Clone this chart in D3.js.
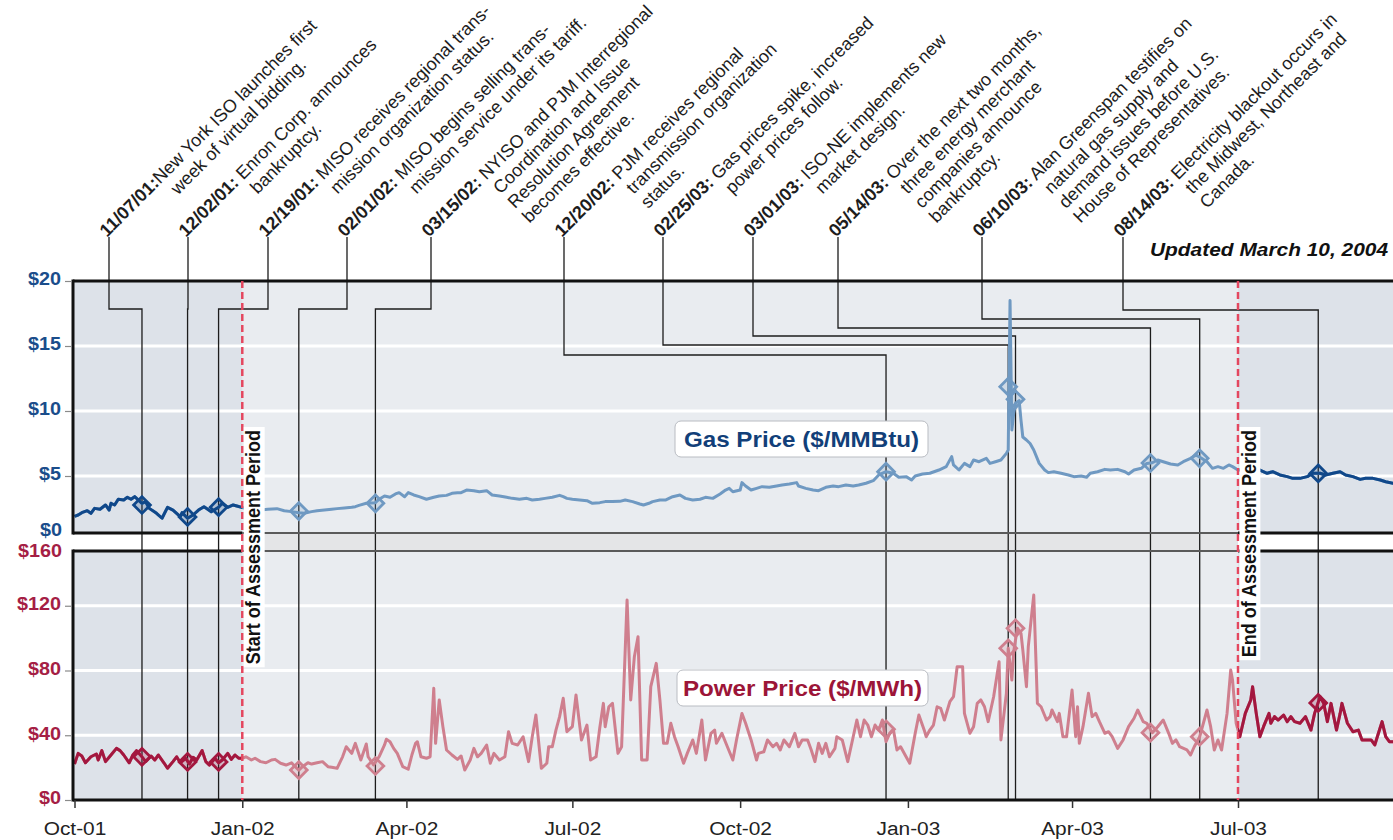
<!DOCTYPE html>
<html>
<head>
<meta charset="utf-8">
<script src="https://cdn.jsdelivr.net/npm/d3@7"></script>
<style>
  body { margin: 0; background: #fff; }
  svg { display: block; }
  text { font-family: "Liberation Sans", Arial, sans-serif; white-space: pre; }
</style>
</head>
<body>
<svg id="chart" width="1393" height="840"></svg>
<script>
// ---- data ----
const gasSeries = [
  ["2001-10-01",1.9],["2001-10-03",2.0],["2001-10-05",2.18],["2001-10-08",2.33],["2001-10-10",2.13],["2001-10-12",2.51],
  ["2001-10-15",2.44],["2001-10-18",2.77],["2001-10-20",2.38],["2001-10-21",2.9],["2001-10-23",2.77],["2001-10-25",3.21],
  ["2001-10-28",3.15],["2001-10-30",3.36],["2001-11-01",3.21],["2001-11-03",3.41],["2001-11-07",2.9],["2001-11-09",3.02],
  ["2001-11-11",2.51],["2001-11-15",2.13],["2001-11-18",1.75],["2001-11-21",2.59],["2001-11-24",2.38],["2001-11-28",1.87],
  ["2001-11-29",2.18],["2001-12-02",1.75],["2001-12-05",2.0],["2001-12-08",2.38],["2001-12-11",2.64],["2001-12-15",2.25],
  ["2001-12-19",2.59],["2001-12-21",2.9],["2001-12-24",2.59],["2001-12-27",2.77],["2001-12-29",2.69],["2002-01-03",2.5],
  ["2002-01-07",2.45],["2002-01-11",2.38],["2002-01-15",2.44],["2002-01-20",2.49],["2002-01-24",2.33],["2002-01-28",2.26],
  ["2002-02-01",2.18],["2002-02-04",2.13],["2002-02-08",2.26],["2002-02-11",2.33],["2002-02-15",2.38],["2002-02-19",2.44],
  ["2002-02-22",2.49],["2002-02-26",2.54],["2002-03-02",2.59],["2002-03-04",2.64],["2002-03-06",2.74],["2002-03-10",2.9],
  ["2002-03-15",2.95],["2002-03-17",3.21],["2002-03-20",3.46],["2002-03-23",3.36],["2002-03-26",3.62],["2002-03-28",3.72],
  ["2002-03-31",3.41],["2002-04-02",3.72],["2002-04-05",3.54],["2002-04-08",3.41],["2002-04-12",3.21],["2002-04-16",3.36],
  ["2002-04-19",3.46],["2002-04-23",3.51],["2002-04-26",3.67],["2002-04-29",3.72],["2002-05-01",3.72],["2002-05-04",3.92],
  ["2002-05-08",3.87],["2002-05-11",3.79],["2002-05-15",3.87],["2002-05-18",3.54],["2002-05-22",3.46],["2002-05-26",3.36],
  ["2002-05-29",3.28],["2002-06-02",3.21],["2002-06-06",3.28],["2002-06-09",3.15],["2002-06-13",3.21],["2002-06-16",3.28],
  ["2002-06-20",3.36],["2002-06-24",3.51],["2002-06-26",3.41],["2002-06-28",3.28],["2002-07-01",3.21],["2002-07-05",3.15],
  ["2002-07-09",3.1],["2002-07-12",2.9],["2002-07-16",2.95],["2002-07-19",3.03],["2002-07-23",3.03],["2002-07-27",3.05],
  ["2002-07-30",3.15],["2002-08-03",3.03],["2002-08-07",2.85],["2002-08-09",2.77],["2002-08-12",2.9],["2002-08-14",3.03],
  ["2002-08-18",3.15],["2002-08-21",3.15],["2002-08-25",3.41],["2002-08-29",3.54],["2002-09-01",3.28],["2002-09-05",3.15],
  ["2002-09-09",3.21],["2002-09-12",3.36],["2002-09-16",3.28],["2002-09-20",3.62],["2002-09-23",3.92],["2002-09-25",4.05],
  ["2002-09-27",3.79],["2002-10-01",3.92],["2002-10-02",4.49],["2002-10-04",4.23],["2002-10-07",3.92],["2002-10-10",4.05],
  ["2002-10-13",4.18],["2002-10-17",4.13],["2002-10-21",4.23],["2002-10-24",4.31],["2002-10-28",4.38],["2002-11-01",4.49],
  ["2002-11-02",4.23],["2002-11-06",4.05],["2002-11-10",3.92],["2002-11-13",3.87],["2002-11-17",4.13],["2002-11-21",4.23],
  ["2002-11-24",4.18],["2002-11-28",4.31],["2002-12-02",4.23],["2002-12-05",4.31],["2002-12-09",4.44],["2002-12-13",4.64],
  ["2002-12-16",5.08],["2002-12-20",5.33],["2002-12-24",5.21],["2002-12-27",4.9],["2002-12-31",4.95],["2003-01-03",4.69],
  ["2003-01-05",5.0],["2003-01-09",5.15],["2003-01-13",5.21],["2003-01-18",5.46],["2003-01-22",5.72],["2003-01-25",6.49],
  ["2003-01-26",5.85],["2003-01-29",5.46],["2003-02-01",5.97],["2003-02-04",5.72],["2003-02-06",6.23],["2003-02-09",6.1],
  ["2003-02-13",6.36],["2003-02-15",5.97],["2003-02-18",6.1],["2003-02-21",6.23],["2003-02-24",6.74],["2003-02-25",7.0],
  ["2003-02-26",18.5],["2003-02-27",8.54],["2003-02-28",9.82],["2003-03-01",10.6],["2003-03-03",10.8],["2003-03-04",9.3],
  ["2003-03-05",8.0],["2003-03-07",7.77],["2003-03-09",7.5],["2003-03-11",7.0],["2003-03-14",5.97],["2003-03-17",5.46],
  ["2003-03-19",5.26],["2003-03-22",5.33],["2003-03-26",5.21],["2003-03-30",5.08],["2003-04-02",4.95],["2003-04-06",5.0],
  ["2003-04-09",4.9],["2003-04-11",5.21],["2003-04-15",5.33],["2003-04-19",5.51],["2003-04-22",5.46],["2003-04-26",5.51],
  ["2003-04-30",5.33],["2003-05-02",5.15],["2003-05-05",5.46],["2003-05-09",5.59],["2003-05-12",5.97],["2003-05-15",6.02],
  ["2003-05-18",6.23],["2003-05-21",6.1],["2003-05-25",5.92],["2003-05-29",5.85],["2003-06-01",6.1],["2003-06-05",6.36],
  ["2003-06-08",6.62],["2003-06-11",6.36],["2003-06-14",6.1],["2003-06-17",5.59],["2003-06-20",5.72],["2003-06-23",5.59],
  ["2003-06-26",5.85],["2003-06-28",5.72],["2003-07-01",5.46],["2003-07-05",5.5],["2003-07-10",5.59],["2003-07-13",5.46],
  ["2003-07-17",5.21],["2003-07-20",5.33],["2003-07-24",5.08],["2003-07-28",4.95],["2003-07-31",4.82],["2003-08-04",4.82],
  ["2003-08-08",4.95],["2003-08-11",5.21],["2003-08-15",5.21],["2003-08-18",5.08],["2003-08-22",5.21],["2003-08-26",5.33],
  ["2003-08-29",5.08],["2003-09-02",4.95],["2003-09-06",4.74],["2003-09-09",4.82],["2003-09-13",4.82],["2003-09-17",4.69],
  ["2003-09-20",4.56],["2003-09-24",4.44],["2003-09-28",4.4]
];

const powerSeries = [
  ["2001-10-01",22.2],["2001-10-03",28.8],["2001-10-05",27.2],["2001-10-07",23.0],["2001-10-10",26.7],["2001-10-13",28.4],
  ["2001-10-14",24.7],["2001-10-16",30.5],["2001-10-18",23.7],["2001-10-21",27.8],["2001-10-24",31.9],["2001-10-26",30.5],
  ["2001-10-28",27.8],["2001-10-31",23.0],["2001-11-02",27.8],["2001-11-04",30.5],["2001-11-07",26.7],["2001-11-09",23.7],
  ["2001-11-12",27.2],["2001-11-14",24.7],["2001-11-16",27.8],["2001-11-19",23.0],["2001-11-21",19.6],["2001-11-24",23.7],
  ["2001-11-26",26.7],["2001-11-28",23.0],["2001-12-01",25.8],["2001-12-03",22.2],["2001-12-05",26.4],["2001-12-07",24.7],
  ["2001-12-10",30.5],["2001-12-12",23.7],["2001-12-14",21.6],["2001-12-17",25.8],["2001-12-19",23.0],["2001-12-21",24.7],
  ["2001-12-24",28.8],["2001-12-26",25.1],["2001-12-28",27.8],["2001-12-30",25.8],["2002-01-01",25.8],["2002-01-03",26.7],
  ["2002-01-06",24.7],["2002-01-08",25.8],["2002-01-11",23.7],["2002-01-14",23.0],["2002-01-17",24.7],["2002-01-19",25.1],
  ["2002-01-22",22.7],["2002-01-25",21.6],["2002-01-28",23.0],["2002-01-30",20.6],["2002-02-01",18.5],["2002-02-03",20.6],
  ["2002-02-06",23.0],["2002-02-08",22.2],["2002-02-11",23.0],["2002-02-14",23.7],["2002-02-17",20.6],["2002-02-19",20.2],
  ["2002-02-22",19.6],["2002-02-25",26.7],["2002-02-27",32.9],["2002-03-02",28.8],["2002-03-04",35.0],["2002-03-07",24.7],
  ["2002-03-10",34.6],["2002-03-11",26.7],["2002-03-14",21.6],["2002-03-17",26.7],["2002-03-20",34.0],["2002-03-21",37.5],
  ["2002-03-23",36.0],["2002-03-25",31.9],["2002-03-27",28.8],["2002-03-30",20.6],["2002-04-02",19.0],["2002-04-04",27.8],
  ["2002-04-06",35.0],["2002-04-07",36.0],["2002-04-09",26.7],["2002-04-12",25.8],["2002-04-14",26.7],["2002-04-16",69.0],
  ["2002-04-17",35.0],["2002-04-19",61.8],["2002-04-21",45.3],["2002-04-23",30.9],["2002-04-26",27.8],["2002-04-29",25.1],
  ["2002-05-01",27.2],["2002-05-03",18.5],["2002-05-06",24.7],["2002-05-08",31.9],["2002-05-10",26.7],["2002-05-12",28.8],
  ["2002-05-15",34.0],["2002-05-17",22.7],["2002-05-19",28.8],["2002-05-22",24.7],["2002-05-25",26.7],["2002-05-27",42.2],
  ["2002-05-29",35.0],["2002-06-01",34.0],["2002-06-04",39.1],["2002-06-07",23.7],["2002-06-09",39.1],["2002-06-11",52.5],
  ["2002-06-14",19.6],["2002-06-17",22.7],["2002-06-18",32.9],["2002-06-20",32.9],["2002-06-22",43.2],["2002-06-24",51.5],
  ["2002-06-26",62.8],["2002-06-28",42.2],["2002-07-01",45.3],["2002-07-03",64.9],["2002-07-06",37.1],["2002-07-09",46.3],
  ["2002-07-11",24.7],["2002-07-14",26.7],["2002-07-16",44.3],["2002-07-18",59.7],["2002-07-19",45.3],["2002-07-21",57.6],
  ["2002-07-23",59.7],["2002-07-26",28.8],["2002-07-28",32.9],["2002-07-31",123.5],["2002-08-02",61.8],["2002-08-04",88.5],
  ["2002-08-06",100.9],["2002-08-08",24.7],["2002-08-11",24.7],["2002-08-13",70.0],["2002-08-16",84.4],["2002-08-18",61.8],
  ["2002-08-20",35.0],["2002-08-22",35.0],["2002-08-24",47.4],["2002-08-26",39.1],["2002-08-28",32.9],["2002-08-31",22.7],
  ["2002-09-02",28.8],["2002-09-05",37.1],["2002-09-07",28.8],["2002-09-10",49.4],["2002-09-12",24.7],["2002-09-15",41.2],
  ["2002-09-17",43.2],["2002-09-18",35.0],["2002-09-21",41.2],["2002-09-24",32.9],["2002-09-27",24.7],["2002-09-29",37.1],
  ["2002-10-02",53.5],["2002-10-04",47.4],["2002-10-07",37.1],["2002-10-10",24.7],["2002-10-11",28.8],["2002-10-14",29.8],
  ["2002-10-16",37.1],["2002-10-19",32.9],["2002-10-21",35.0],["2002-10-23",30.9],["2002-10-25",37.1],["2002-10-28",32.9],
  ["2002-10-31",41.2],["2002-11-02",32.9],["2002-11-04",37.1],["2002-11-07",37.1],["2002-11-09",30.9],["2002-11-11",23.7],
  ["2002-11-13",35.0],["2002-11-15",28.8],["2002-11-17",35.0],["2002-11-19",26.7],["2002-11-22",31.9],["2002-11-23",39.1],
  ["2002-11-26",37.1],["2002-11-29",23.7],["2002-12-02",39.1],["2002-12-04",49.4],["2002-12-06",39.1],["2002-12-08",49.4],
  ["2002-12-10",46.3],["2002-12-12",39.1],["2002-12-14",46.3],["2002-12-16",43.2],["2002-12-18",49.4],["2002-12-20",36.0],
  ["2002-12-22",41.2],["2002-12-24",43.7],["2002-12-26",30.9],["2002-12-28",32.9],["2002-12-31",26.7],["2003-01-02",22.7],
  ["2003-01-05",41.2],["2003-01-07",52.5],["2003-01-10",43.0],["2003-01-11",39.1],["2003-01-13",43.2],["2003-01-15",46.3],
  ["2003-01-17",57.6],["2003-01-19",56.6],["2003-01-21",49.4],["2003-01-24",60.7],["2003-01-26",63.8],["2003-01-28",82.3],
  ["2003-01-31",82.3],["2003-02-01",53.5],["2003-02-04",41.2],["2003-02-06",45.3],["2003-02-08",59.7],["2003-02-10",61.8],
  ["2003-02-12",57.6],["2003-02-14",48.4],["2003-02-17",63.8],["2003-02-20",85.4],["2003-02-21",37.1],["2003-02-24",65.9],
  ["2003-02-25",93.7],["2003-02-27",74.1],["2003-02-28",91.6],["2003-03-02",106.1],["2003-03-04",103.0],["2003-03-05",92.7],
  ["2003-03-07",70.0],["2003-03-08",94.7],["2003-03-11",126.6],["2003-03-13",59.7],["2003-03-15",57.6],["2003-03-18",49.4],
  ["2003-03-20",51.5],["2003-03-21",55.6],["2003-03-24",48.4],["2003-03-25",53.5],["2003-03-27",39.1],["2003-03-29",39.1],
  ["2003-04-01",67.9],["2003-04-03",39.1],["2003-04-04",57.6],["2003-04-05",35.0],["2003-04-07",45.3],["2003-04-10",65.9],
  ["2003-04-12",51.5],["2003-04-14",53.5],["2003-04-16",48.4],["2003-04-19",41.2],["2003-04-21",42.2],["2003-04-23",39.1],
  ["2003-04-26",31.9],["2003-04-29",37.1],["2003-05-02",45.3],["2003-05-05",50.5],["2003-05-07",55.6],["2003-05-10",48.4],
  ["2003-05-12",47.4],["2003-05-15",41.6],["2003-05-18",45.3],["2003-05-21",49.4],["2003-05-24",41.2],["2003-05-26",35.0],
  ["2003-05-28",37.1],["2003-05-30",32.9],["2003-06-03",30.9],["2003-06-05",27.8],["2003-06-07",32.9],["2003-06-10",39.1],
  ["2003-06-14",55.6],["2003-06-16",45.3],["2003-06-18",30.9],["2003-06-20",37.1],["2003-06-22",30.9],["2003-06-25",53.5],
  ["2003-06-27",80.3],["2003-06-28",74.1],["2003-06-30",47.4],["2003-07-02",39.1],["2003-07-05",53.5],["2003-07-08",61.8],
  ["2003-07-09",70.0],["2003-07-11",53.5],["2003-07-13",39.1],["2003-07-15",45.3],["2003-07-18",53.5],["2003-07-19",47.4],
  ["2003-07-21",51.5],["2003-07-23",49.4],["2003-07-26",52.5],["2003-07-28",48.4],["2003-07-30",51.5],["2003-08-01",48.4],
  ["2003-08-04",47.4],["2003-08-07",51.5],["2003-08-10",43.2],["2003-08-12",53.5],["2003-08-15",63.8],["2003-08-17",59.7],
  ["2003-08-19",48.4],["2003-08-21",59.7],["2003-08-24",43.2],["2003-08-26",53.5],["2003-08-27",59.7],["2003-08-29",51.5],
  ["2003-08-30",47.4],["2003-09-02",42.2],["2003-09-05",43.2],["2003-09-07",37.1],["2003-09-10",37.1],["2003-09-12",37.1],
  ["2003-09-14",34.0],["2003-09-16",41.2],["2003-09-18",48.4],["2003-09-20",39.1],["2003-09-22",36.0],["2003-09-24",36.0],
  ["2003-09-28",36.0]
];

const eventDates = ["2001-11-07","2001-12-02","2001-12-19","2002-02-01","2002-03-15","2002-12-20",
                    "2003-02-25","2003-03-01","2003-05-14","2003-06-10","2003-08-14"];
const eventLabels = ["11/07/01:","12/02/01:","12/19/01:","02/01/02:","03/15/02:","12/20/02:",
                     "02/25/03:","03/01/03:","05/14/03:","06/10/03:","08/14/03:"];
const eventNotes = [
  ["New York ISO launches first", "week of virtual bidding."],
  [" Enron Corp. announces", "bankruptcy."],
  [" MISO receives regional trans-", "mission organization status."],
  [" MISO begins selling trans-", "mission service under its tariff."],
  [" NYISO and PJM Interregional", "Coordination and Issue", "Resolution Agreement", "becomes effective."],
  [" PJM receives regional", "transmission organization", "status."],
  [" Gas prices spike, increased", "power prices follow."],
  [" ISO-NE implements new", "market design."],
  [" Over the next two months,", "three energy merchant", "companies announce", "bankruptcy."],
  [" Alan Greenspan testifies on", "natural gas supply and", "demand issues before U.S.", "House of Representatives."],
  [" Electricity blackout occurs in", "the Midwest, Northeast and", "Canada."]
];
const gasAtEvent = [2.77, 1.85, 2.6, 2.3, 2.9, 5.33, 11.87, 10.9, 6.0, 6.36, 5.2];
const powerAtEvent = [26.7, 23.5, 23.5, 18.5, 21.0, 43.7, 93.7, 106.1, 41.6, 39.1, 60.0];

const gasTicks = [5, 10, 15, 20];
const powerTicks = [0, 40, 80, 120];
const gasFloorLabel = "$0";
const powerCeilLabel = "$160";
const monthTicks = ["2001-10-01","2002-01-01","2002-04-01","2002-07-01","2002-10-01","2003-01-01","2003-04-01","2003-07-01"];
const assessStart = "2002-01-01";
const assessEnd = "2003-07-01";
const assessLabels = ["Start of Assessment Period", "End of Assessment Period"];
const gasName = "Gas Price ($/MMBtu)";
const powerName = "Power Price ($/MWh)";
const updatedNote = "Updated March 10, 2004";

// ---- layout ----
const calloutX = [109, 188, 268, 347, 431, 564, 663, 753, 838, 982, 1123];
const elbowY = [309, 309, 309, 309, 309, 355, 345, 336, 328, 319, 310];
const calloutTop = 237;
const SX = 1.1;           // horizontal stretch of the flat lettering
const LINE = 20.4;

const parseDate = d3.timeParse("%Y-%m-%d");
const gasPts = gasSeries.map(d => [parseDate(d[0]), d[1]]);
const powerPts = powerSeries.map(d => [parseDate(d[0]), d[1]]);

const svg = d3.select("#chart");

const x = d3.scaleTime()
  .domain([parseDate("2001-10-01"), parseDate("2003-07-01")])
  .range([74.5, 1238]);
const gasY = d3.scaleLinear().domain([0, 20]).range([541, 281]);
const powerY = d3.scaleLinear().domain([0, 160]).range([800, 541]);

const plotLeft = 73, plotRight = 1400;
const gasTop = gasY(20), gasBottom = 533;
const powerTop = 551, powerBottom = powerY(0);
const xStart = x(parseDate(assessStart));
const xEnd = x(parseDate(assessEnd));

const gasDark = "#10488a", gasLight = "#6f99c2";
const powerDark = "#a3173f", powerLight = "#cf7f8e";

// clip paths
const defs = svg.append("defs");
defs.append("clipPath").attr("id", "gasClip").append("rect")
  .attr("x", plotLeft).attr("y", gasTop).attr("width", plotRight - plotLeft).attr("height", gasBottom - gasTop);
defs.append("clipPath").attr("id", "powerClip").append("rect")
  .attr("x", plotLeft).attr("y", powerTop).attr("width", plotRight - plotLeft).attr("height", powerBottom - powerTop);
const outside = defs.append("clipPath").attr("id", "outsideClip");
outside.append("rect").attr("x", plotLeft).attr("y", 0).attr("width", xStart - plotLeft).attr("height", 840);
outside.append("rect").attr("x", xEnd).attr("y", 0).attr("width", plotRight - xEnd).attr("height", 840);

// panel backgrounds
[[gasTop, gasBottom], [powerTop, powerBottom]].forEach(([t, b]) => {
  svg.append("rect").attr("x", plotLeft).attr("y", t).attr("width", plotRight - plotLeft).attr("height", b - t)
    .attr("fill", "#e9ecf0");
  svg.append("rect").attr("x", plotLeft).attr("y", t).attr("width", xStart - plotLeft).attr("height", b - t)
    .attr("fill", "#dde2e9");
  svg.append("rect").attr("x", xEnd).attr("y", t).attr("width", plotRight - xEnd).attr("height", b - t)
    .attr("fill", "#dde2e9");
});
svg.append("rect").attr("x", xStart).attr("y", gasBottom).attr("width", xEnd - xStart)
  .attr("height", powerTop - gasBottom).attr("fill", "#e4e5e7");

// gridlines
svg.append("g").selectAll("line").data(gasTicks.filter(v => v < 20)).join("line")
  .attr("x1", plotLeft).attr("x2", plotRight).attr("y1", d => gasY(d)).attr("y2", d => gasY(d))
  .attr("stroke", "#fff").attr("stroke-width", 3);
svg.append("g").selectAll("line").data(powerTicks.filter(v => v > 0)).join("line")
  .attr("x1", plotLeft).attr("x2", plotRight).attr("y1", d => powerY(d)).attr("y2", d => powerY(d))
  .attr("stroke", "#fff").attr("stroke-width", 3);

// leader lines
const leaders = svg.append("g").attr("fill", "none").attr("stroke", "#1c1c1c").attr("stroke-width", 1.3);
eventDates.forEach((ds, i) => {
  const xe = x(parseDate(ds));
  leaders.append("path").attr("d", `M${calloutX[i]},${calloutTop}V${elbowY[i]}H${xe}V${powerBottom}`);
});

// series
function drawSeries(pts, yScale, clipId, light, dark) {
  const line = d3.line().x(d => x(d[0])).y(d => yScale(d[1]));
  const g = svg.append("g").attr("clip-path", `url(#${clipId})`);
  g.append("path").datum(pts).attr("d", line).attr("fill", "none")
    .attr("stroke", light).attr("stroke-width", 3).attr("stroke-linejoin", "round");
  g.append("g").attr("clip-path", "url(#outsideClip)")
    .append("path").datum(pts).attr("d", line).attr("fill", "none")
    .attr("stroke", dark).attr("stroke-width", 3).attr("stroke-linejoin", "round");
}
drawSeries(gasPts, gasY, "gasClip", gasLight, gasDark);
drawSeries(powerPts, powerY, "powerClip", powerLight, powerDark);

// event diamonds
const diamond = d3.symbol().type(d3.symbolSquare).size(140)();
const isOutside = t => t < parseDate(assessStart) || t >= parseDate(assessEnd);
function drawDiamonds(values, yScale, light, dark) {
  svg.append("g").selectAll("path").data(eventDates).join("path")
    .attr("d", diamond)
    .attr("transform", (d, i) => `translate(${x(parseDate(d))},${yScale(values[i])}) rotate(45)`)
    .attr("fill", d => isOutside(parseDate(d)) ? dark : light)
    .attr("fill-opacity", 0.22)
    .attr("stroke", d => isOutside(parseDate(d)) ? dark : light)
    .attr("stroke-width", 2.8);
}
drawDiamonds(gasAtEvent, gasY, gasLight, gasDark);
drawDiamonds(powerAtEvent, powerY, powerLight, powerDark);

// panel borders
const borders = svg.append("g");
borders.append("line").attr("x1", plotLeft).attr("x2", plotRight).attr("y1", gasTop).attr("y2", gasTop)
  .attr("stroke", "#111").attr("stroke-width", 3);
borders.append("line").attr("x1", plotLeft).attr("x2", plotRight).attr("y1", powerBottom).attr("y2", powerBottom)
  .attr("stroke", "#111").attr("stroke-width", 3);
[gasBottom, powerTop].forEach(y => {
  borders.append("line").attr("x1", xStart).attr("x2", xEnd).attr("y1", y).attr("y2", y)
    .attr("stroke", "#5a5a5a").attr("stroke-width", 2);
  borders.append("line").attr("x1", plotLeft).attr("x2", xStart).attr("y1", y).attr("y2", y)
    .attr("stroke", "#111").attr("stroke-width", 3);
  borders.append("line").attr("x1", xEnd).attr("x2", plotRight).attr("y1", y).attr("y2", y)
    .attr("stroke", "#111").attr("stroke-width", 3);
});
borders.append("line").attr("x1", plotLeft).attr("x2", plotLeft).attr("y1", gasTop - 1.5).attr("y2", gasBottom + 1.5)
  .attr("stroke", "#111").attr("stroke-width", 3);
borders.append("line").attr("x1", plotLeft).attr("x2", plotLeft).attr("y1", powerTop - 1.5).attr("y2", powerBottom + 1.5)
  .attr("stroke", "#111").attr("stroke-width", 3);

// assessment period markers
[xStart, xEnd].forEach((xv, i) => {
  svg.append("line").attr("x1", xv).attr("x2", xv).attr("y1", gasTop).attr("y2", powerBottom)
    .attr("stroke", "#e4475f").attr("stroke-width", 2.5).attr("stroke-dasharray", "7,4");
  const g = svg.append("g").attr("transform", `translate(${xv + 18},430) scale(${SX},1) rotate(-90)`);
  const t = g.append("text").attr("text-anchor", "end").attr("font-size", 18).attr("font-weight", "bold")
    .attr("fill", "#111").text(assessLabels[i]);
  const len = t.node().getComputedTextLength();
  g.insert("rect", "text").attr("x", -len - 3).attr("y", -15).attr("width", len + 6).attr("height", 19)
    .attr("fill", "#fff");
});

// series name boxes
function nameBox(bx, by, bw, label, color) {
  svg.append("rect").attr("x", bx).attr("y", by).attr("width", bw).attr("height", 36).attr("rx", 6)
    .attr("fill", "#fff").attr("stroke", "#b9bcc2").attr("stroke-width", 1);
  svg.append("text").attr("transform", `translate(${bx + bw / 2},${by + 25.5}) scale(${SX},1)`)
    .attr("text-anchor", "middle").attr("font-size", 22).attr("font-weight", "bold")
    .attr("fill", color).text(label);
}
nameBox(675, 421, 253, gasName, "#123f79");
nameBox(677, 670, 251, powerName, "#9c1538");

// axes
function styleLeftAxis(g, color) {
  g.select(".domain").remove();
  g.selectAll(".tick line").attr("stroke", "#8a8a8a").attr("stroke-width", 1.2);
  g.selectAll(".tick text").attr("fill", color).attr("font-size", 18).attr("font-weight", "bold")
    .attr("font-family", "Liberation Sans, Arial, sans-serif")
    .attr("transform", `translate(0,-2) scale(${SX},1)`);
}
const fmt = d => "$" + d;
svg.append("g").attr("transform", `translate(${plotLeft - 1},0)`)
  .call(d3.axisLeft(gasY).tickValues(gasTicks).tickFormat(fmt).tickSize(7).tickPadding(3))
  .call(g => styleLeftAxis(g, "#1a4d8b"));
svg.append("g").attr("transform", `translate(${plotLeft - 1},0)`)
  .call(d3.axisLeft(powerY).tickValues(powerTicks).tickFormat(fmt).tickSize(7).tickPadding(3))
  .call(g => styleLeftAxis(g, "#a51e45"));
svg.append("text").attr("transform", `translate(${plotLeft - 11},${gasBottom - 3}) scale(${SX},1)`)
  .attr("dy", "0.32em").attr("text-anchor", "end").attr("font-size", 18).attr("font-weight", "bold")
  .attr("fill", "#1a4d8b").text(gasFloorLabel);
svg.append("text").attr("transform", `translate(${plotLeft - 11},${powerTop}) scale(${SX},1)`)
  .attr("dy", "0.32em").attr("text-anchor", "end").attr("font-size", 18).attr("font-weight", "bold")
  .attr("fill", "#a51e45").text(powerCeilLabel);

svg.append("g").attr("transform", `translate(0,${powerBottom})`)
  .call(d3.axisBottom(x).tickValues(monthTicks.map(parseDate)).tickFormat(d3.timeFormat("%b-%y")).tickSize(8))
  .call(g => {
    g.select(".domain").remove();
    g.selectAll(".tick line").attr("stroke", "#333").attr("stroke-width", 1.5);
    g.selectAll(".tick text").attr("y", 35).attr("dy", 0).attr("fill", "#222").attr("font-size", 19)
      .attr("font-family", "Liberation Sans, Arial, sans-serif")
      .attr("transform", `scale(${SX},1)`);
  });

// callout texts, set at 45 degrees
const notes = svg.append("g").attr("fill", "#1d1d1d").attr("font-size", 18);
eventDates.forEach((ds, i) => {
  const g = notes.append("g")
    .attr("transform", `translate(${calloutX[i]},${calloutTop}) rotate(-45)`);
  const first = g.append("text").attr("x", -2).attr("y", -1);
  const dt = first.append("tspan").attr("font-weight", "bold").text(eventLabels[i]);
  first.append("tspan").text(eventNotes[i][0]);
  const indent = dt.node().getComputedTextLength() + 5;
  eventNotes[i].slice(1).forEach((line, k) => {
    g.append("text").attr("x", -2 + indent).attr("y", -1 + (k + 1) * LINE).text(line);
  });
});

svg.append("text").attr("transform", `translate(1150,256) scale(${SX},1)`)
  .attr("font-size", 19).attr("font-weight", "bold").attr("font-style", "italic").attr("fill", "#111")
  .text(updatedNote);
</script>
</body>
</html>
